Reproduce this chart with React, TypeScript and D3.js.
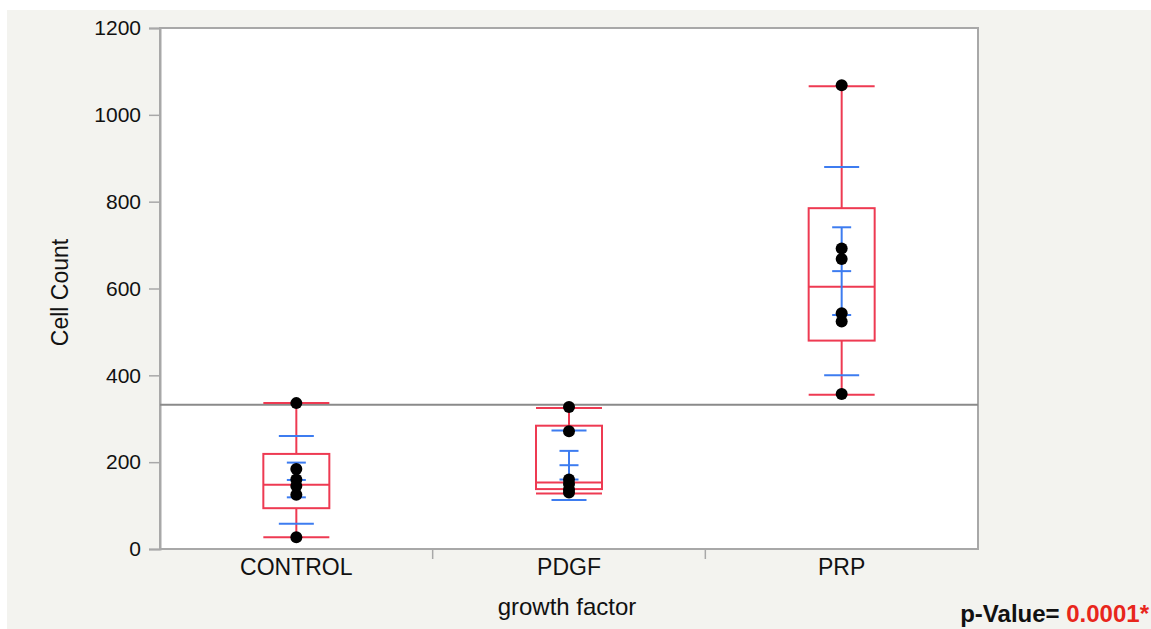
import React, { useEffect, useRef } from 'react';
import * as d3 from 'd3';

const groups = ['CONTROL', 'PDGF', 'PRP'];
const controlPoints = [336, 184, 160, 145, 125, 27];
const pdgfPoints = [327, 271, 160, 150, 137, 130];
const prpPoints = [1068, 692, 668, 543, 524, 357];

// box stats per group: [whiskerLow, q1, median, q3, whiskerHigh]
const boxStats = [
  [27, 94, 148, 219, 336],
  [128, 138, 153, 284, 325],
  [355, 480, 604, 785, 1066],
];
// mean, standard error, standard deviation
const means = [159, 193, 640];
const stdErrs = [40, 33, 101];
const stdDevs = [101, 80, 240];

const grandMean = 332;
const yTicks = [0, 200, 400, 600, 800, 1000, 1200];

const W = 1151;
const H = 629;
const RED = '#ee3a52';
const BLUE = '#3d7cf0';
const FONT = '"Liberation Sans", Arial, Helvetica, sans-serif';

export default function App() {
  const svgRef = useRef<SVGSVGElement>(null);

  useEffect(() => {
    if (!svgRef.current) return;
    const svg = d3.select(svgRef.current);
    svg.selectAll('*').remove();

    const margin = { top: 28, left: 160, right: 173, bottom: 80 };
    const plotW = W - margin.left - margin.right;
    const plotH = H - margin.top - margin.bottom;

    // page background
    svg.append('rect').attr('width', W).attr('height', H).attr('fill', '#ffffff');
    svg.append('rect').attr('x', 7).attr('y', 10).attr('width', W - 7).attr('height', H - 10).attr('fill', '#f3f3ef');

    const g = svg.append('g').attr('transform', `translate(${margin.left},${margin.top})`);

    const x = d3.scaleBand().domain(groups).range([0, plotW]);
    const y = d3.scaleLinear().domain([0, 1200]).range([plotH, 0]);

    // plot frame
    g.append('rect')
      .attr('width', plotW)
      .attr('height', plotH)
      .attr('fill', '#ffffff')
      .attr('stroke', '#a8a8a8')
      .attr('stroke-width', 2);

    // y axis
    const yAxis = g.append('g').call(
      d3.axisLeft(y).tickValues(yTicks).tickFormat(d3.format('d')).tickSize(11).tickPadding(8)
    );
    yAxis.select('.domain').attr('stroke', '#a8a8a8').attr('stroke-width', 2);
    yAxis.selectAll('.tick line').attr('stroke', '#a8a8a8').attr('stroke-width', 1.5);
    yAxis.selectAll('.tick text')
      .attr('font-family', FONT)
      .attr('font-size', 21)
      .attr('fill', '#111');

    // x axis: separators between categories
    const xAxis = g.append('g').attr('transform', `translate(0,${plotH})`);
    xAxis.append('line').attr('x1', 0).attr('x2', plotW).attr('stroke', '#a8a8a8').attr('stroke-width', 2);
    groups.slice(1).forEach(c => {
      xAxis.append('line')
        .attr('x1', x(c)!)
        .attr('x2', x(c)!)
        .attr('y1', 0)
        .attr('y2', 10)
        .attr('stroke', '#a8a8a8')
        .attr('stroke-width', 1.5);
    });
    groups.forEach(c => {
      xAxis.append('text')
        .attr('x', x(c)! + x.bandwidth() / 2)
        .attr('y', 26)
        .attr('text-anchor', 'middle')
        .attr('font-family', FONT)
        .attr('font-size', 23)
        .attr('fill', '#111')
        .text(c);
    });

    // grand mean line
    g.append('line')
      .attr('x1', 0)
      .attr('x2', plotW)
      .attr('y1', y(grandMean))
      .attr('y2', y(grandMean))
      .attr('stroke', '#8a8a8a')
      .attr('stroke-width', 2);

    const allPoints = [controlPoints, pdgfPoints, prpPoints];
    const boxW = 66;
    const sdW = 35;
    const seW = 17;

    groups.forEach((c, i) => {
      const cx = x(c)! + x.bandwidth() / 2;
      const [lo, q1, med, q3, hi] = boxStats[i];
      const grp = g.append('g');

      // whiskers
      grp.append('line').attr('x1', cx).attr('x2', cx).attr('y1', y(hi)).attr('y2', y(q3)).attr('stroke', RED).attr('stroke-width', 2);
      grp.append('line').attr('x1', cx).attr('x2', cx).attr('y1', y(q1)).attr('y2', y(lo)).attr('stroke', RED).attr('stroke-width', 2);
      [lo, hi].forEach(v => {
        grp.append('line')
          .attr('x1', cx - boxW / 2).attr('x2', cx + boxW / 2)
          .attr('y1', y(v)).attr('y2', y(v))
          .attr('stroke', RED).attr('stroke-width', 2);
      });

      // box
      grp.append('rect')
        .attr('x', cx - boxW / 2)
        .attr('y', y(q3))
        .attr('width', boxW)
        .attr('height', y(q1) - y(q3))
        .attr('fill', 'none')
        .attr('stroke', RED)
        .attr('stroke-width', 2);
      grp.append('line')
        .attr('x1', cx - boxW / 2).attr('x2', cx + boxW / 2)
        .attr('y1', y(med)).attr('y2', y(med))
        .attr('stroke', RED).attr('stroke-width', 2);

      // mean +/- SE and SD marks
      const m = means[i];
      grp.append('line')
        .attr('x1', cx).attr('x2', cx)
        .attr('y1', y(m + stdErrs[i])).attr('y2', y(m - stdErrs[i]))
        .attr('stroke', BLUE).attr('stroke-width', 2);
      [m - stdErrs[i], m, m + stdErrs[i]].forEach(v => {
        grp.append('line')
          .attr('x1', cx - seW / 2 - 1).attr('x2', cx + seW / 2 + 1)
          .attr('y1', y(v)).attr('y2', y(v))
          .attr('stroke', BLUE).attr('stroke-width', 2);
      });
      [m - stdDevs[i], m + stdDevs[i]].forEach(v => {
        grp.append('line')
          .attr('x1', cx - sdW / 2).attr('x2', cx + sdW / 2)
          .attr('y1', y(v)).attr('y2', y(v))
          .attr('stroke', BLUE).attr('stroke-width', 2);
      });

      // points
      grp.selectAll('circle')
        .data(allPoints[i])
        .enter().append('circle')
        .attr('cx', cx)
        .attr('cy', d => y(d))
        .attr('r', 6)
        .attr('fill', '#000');
    });

    // axis titles
    svg.append('text')
      .attr('transform', `translate(68,${margin.top + plotH / 2 + 4}) rotate(-90)`)
      .attr('text-anchor', 'middle')
      .attr('font-family', FONT)
      .attr('font-size', 23)
      .attr('fill', '#111')
      .text('Cell Count');

    svg.append('text')
      .attr('x', margin.left + plotW / 2 - 2)
      .attr('y', 615)
      .attr('text-anchor', 'middle')
      .attr('font-family', FONT)
      .attr('font-size', 24)
      .attr('fill', '#111')
      .text('growth factor');

    const pv = svg.append('text')
      .attr('x', W - 2)
      .attr('y', 622)
      .attr('text-anchor', 'end')
      .attr('font-family', FONT)
      .attr('font-size', 24)
      .attr('font-weight', 'bold')
      .attr('fill', '#111');
    pv.append('tspan').text('p-Value= ');
    pv.append('tspan').attr('fill', '#e8261c').text('0.0001*');
  }, []);

  return (
    <svg
      ref={svgRef}
      width={W}
      height={H}
      style={{ position: 'absolute', left: 0, top: 0, display: 'block' }}
    />
  );
}
